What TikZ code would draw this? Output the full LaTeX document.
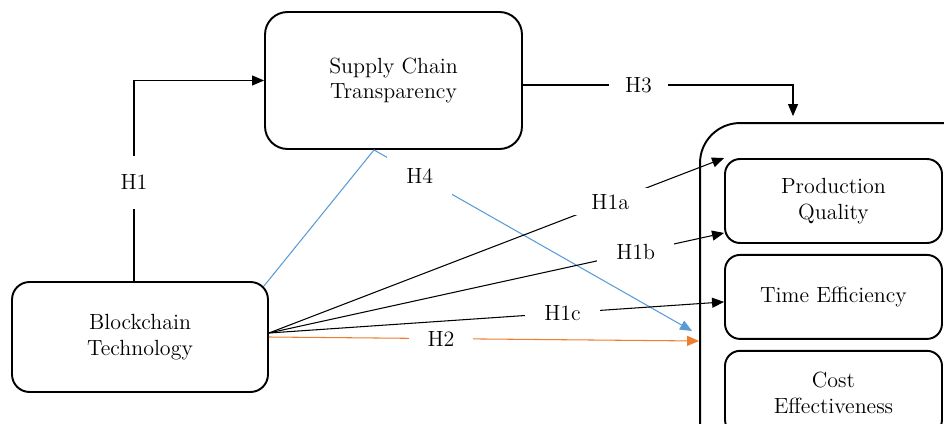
\documentclass[tikz,border=0pt]{standalone}
\usepackage{tikz}
\usetikzlibrary{arrows.meta, positioning}

\definecolor{hblue}{HTML}{5B9BD5}
\definecolor{horange}{HTML}{ED7D31}

\begin{document}
\begin{tikzpicture}[
			x=0.02cm, y=-0.02cm,
			font=\fontsize{12.5}{14.6}\selectfont,
			node distance=0.2cm,
			construct/.style={draw, line width=1.1pt, rectangle, rounded corners=0.45cm, align=center},
			outcome/.style={draw, line width=1.1pt, rectangle, rounded corners=0.3cm, align=center, minimum width=4.34cm, minimum height=1.68cm},
			hyp/.style={fill=white, text=black, inner xsep=0.38cm, inner ysep=0.12cm},
			arrow/.style={-{Triangle[length=2.4mm, width=2mm]}, line width=0.6pt},
			bluearrow/.style={arrow, draw=hblue},
			orangearrow/.style={arrow, draw=horange}
			]
			\useasboundingbox (0,0) rectangle (944,423);
			\clip (0,0) rectangle (944,423);
			
			% Nodes
			\node (sct) [construct, minimum width=5.14cm, minimum height=2.74cm] at (393.5,80.5) {Supply Chain\\Transparency};
			\node (bt) [construct, rounded corners=0.35cm, minimum width=5.12cm, minimum height=2.2cm] at (140,337) {Blockchain\\Technology};
			\node (group) [construct, rounded corners=0.8cm, minimum width=5.68cm, minimum height=8.72cm] at (842,341) {};
			\node (pq) [outcome] at (833.5,201) {Production\\Quality};
			\node (te) [outcome, below=of pq] {Time Efficiency};
			\node (ce) [outcome, below=of te] {Cost\\Effectiveness};
			\coordinate (fan) at ([yshift=0.08cm]bt.east);
			
			% Connections
			\draw [arrow] ([xshift=-0.12cm]bt.north) |- node[hyp, pos=0.246, inner ysep=0.38cm] {H1} (sct.west);
			\draw [arrow] ([yshift=-0.09cm]sct.east) -| node[hyp, pos=0.214, inner xsep=0.33cm] {H3} ([xshift=-0.98cm, yshift=0.12cm]group.north);
			\draw [bluearrow] ([shift={(-0.1cm,-0.1cm)}]bt.north east) -- ([xshift=-0.39cm]sct.south) -- node[hyp, pos=0.144, inner ysep=0.3cm] {H4} ([shift={(-0.14cm,0.2cm)}]group.west);
			\draw [arrow] (fan) -- node[hyp, pos=0.75] {H1a} (pq.north west);
			\draw [arrow] (fan) -- node[hyp, pos=0.806] {H1b} ([yshift=0.22cm]pq.south west);
			\draw [arrow] (fan) -- node[hyp, pos=0.645] {H1c} ([yshift=-0.1cm]te.west);
			\draw [orangearrow] (bt.east) -- node[hyp, pos=0.4] {H2} (group.west);
			
		\end{tikzpicture}
\end{document}
